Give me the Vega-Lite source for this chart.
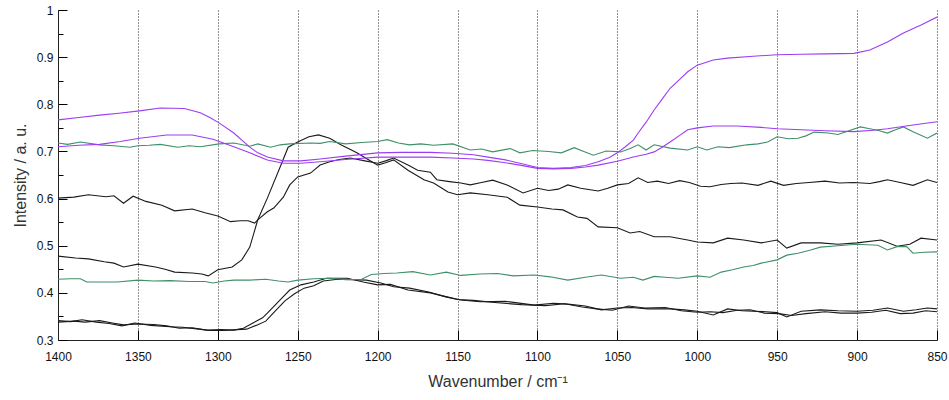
{
  "$schema": "https://vega.github.io/schema/vega-lite/v6.json",
  "width": 879,
  "height": 330,
  "autosize": "none",
  "padding": {"left": 58, "top": 10, "right": 12, "bottom": 60},
  "background": "white",
  "config": {"view": {"stroke": null}},
  "data": {"values": [
    {"s":"K1","w":1400,"v":0.601},{"s":"K1","w":1390,"v":0.603},{"s":"K1","w":1381,"v":0.608},{"s":"K1","w":1370,"v":0.604},{"s":"K1","w":1365,"v":0.606},{"s":"K1","w":1359,"v":0.590},{"s":"K1","w":1353,"v":0.605},{"s":"K1","w":1345,"v":0.594},{"s":"K1","w":1335,"v":0.586},{"s":"K1","w":1327,"v":0.574},{"s":"K1","w":1316,"v":0.578},{"s":"K1","w":1308,"v":0.570},{"s":"K1","w":1300,"v":0.563},{"s":"K1","w":1292,"v":0.551},{"s":"K1","w":1286,"v":0.553},{"s":"K1","w":1281,"v":0.553},{"s":"K1","w":1277,"v":0.548},{"s":"K1","w":1275,"v":0.555},{"s":"K1","w":1269,"v":0.572},{"s":"K1","w":1265,"v":0.580},{"s":"K1","w":1259,"v":0.603},{"s":"K1","w":1255,"v":0.629},{"s":"K1","w":1250,"v":0.646},{"s":"K1","w":1242,"v":0.654},{"s":"K1","w":1236,"v":0.671},{"s":"K1","w":1230,"v":0.678},{"s":"K1","w":1224,"v":0.683},{"s":"K1","w":1217,"v":0.686},{"s":"K1","w":1208,"v":0.680},{"s":"K1","w":1200,"v":0.675},{"s":"K1","w":1195,"v":0.680},{"s":"K1","w":1190,"v":0.686},{"s":"K1","w":1181,"v":0.671},{"s":"K1","w":1175,"v":0.660},{"s":"K1","w":1167,"v":0.656},{"s":"K1","w":1163,"v":0.640},{"s":"K1","w":1155,"v":0.636},{"s":"K1","w":1148,"v":0.633},{"s":"K1","w":1142,"v":0.629},{"s":"K1","w":1135,"v":0.634},{"s":"K1","w":1128,"v":0.639},{"s":"K1","w":1119,"v":0.629},{"s":"K1","w":1109,"v":0.612},{"s":"K1","w":1100,"v":0.622},{"s":"K1","w":1093,"v":0.617},{"s":"K1","w":1087,"v":0.620},{"s":"K1","w":1081,"v":0.629},{"s":"K1","w":1073,"v":0.622},{"s":"K1","w":1062,"v":0.616},{"s":"K1","w":1056,"v":0.622},{"s":"K1","w":1050,"v":0.629},{"s":"K1","w":1043,"v":0.632},{"s":"K1","w":1037,"v":0.644},{"s":"K1","w":1031,"v":0.634},{"s":"K1","w":1025,"v":0.637},{"s":"K1","w":1018,"v":0.632},{"s":"K1","w":1011,"v":0.638},{"s":"K1","w":1005,"v":0.634},{"s":"K1","w":998,"v":0.626},{"s":"K1","w":992,"v":0.625},{"s":"K1","w":985,"v":0.630},{"s":"K1","w":979,"v":0.632},{"s":"K1","w":972,"v":0.633},{"s":"K1","w":962,"v":0.628},{"s":"K1","w":954,"v":0.637},{"s":"K1","w":946,"v":0.628},{"s":"K1","w":938,"v":0.632},{"s":"K1","w":930,"v":0.634},{"s":"K1","w":920,"v":0.637},{"s":"K1","w":911,"v":0.633},{"s":"K1","w":902,"v":0.634},{"s":"K1","w":892,"v":0.632},{"s":"K1","w":886,"v":0.636},{"s":"K1","w":881,"v":0.640},{"s":"K1","w":873,"v":0.634},{"s":"K1","w":865,"v":0.628},{"s":"K1","w":856,"v":0.640},{"s":"K1","w":850,"v":0.634},
    {"s":"K2","w":1400,"v":0.478},{"s":"K2","w":1389,"v":0.474},{"s":"K2","w":1381,"v":0.472},{"s":"K2","w":1371,"v":0.466},{"s":"K2","w":1365,"v":0.463},{"s":"K2","w":1359,"v":0.455},{"s":"K2","w":1350,"v":0.461},{"s":"K2","w":1339,"v":0.455},{"s":"K2","w":1333,"v":0.450},{"s":"K2","w":1327,"v":0.444},{"s":"K2","w":1316,"v":0.442},{"s":"K2","w":1310,"v":0.440},{"s":"K2","w":1306,"v":0.436},{"s":"K2","w":1300,"v":0.449},{"s":"K2","w":1291,"v":0.455},{"s":"K2","w":1285,"v":0.470},{"s":"K2","w":1280,"v":0.497},{"s":"K2","w":1275,"v":0.555},{"s":"K2","w":1269,"v":0.601},{"s":"K2","w":1261,"v":0.667},{"s":"K2","w":1256,"v":0.709},{"s":"K2","w":1250,"v":0.720},{"s":"K2","w":1243,"v":0.731},{"s":"K2","w":1237,"v":0.735},{"s":"K2","w":1230,"v":0.728},{"s":"K2","w":1223,"v":0.714},{"s":"K2","w":1213,"v":0.697},{"s":"K2","w":1206,"v":0.683},{"s":"K2","w":1200,"v":0.671},{"s":"K2","w":1195,"v":0.676},{"s":"K2","w":1190,"v":0.682},{"s":"K2","w":1181,"v":0.660},{"s":"K2","w":1171,"v":0.640},{"s":"K2","w":1165,"v":0.633},{"s":"K2","w":1156,"v":0.614},{"s":"K2","w":1150,"v":0.608},{"s":"K2","w":1142,"v":0.612},{"s":"K2","w":1131,"v":0.608},{"s":"K2","w":1119,"v":0.603},{"s":"K2","w":1111,"v":0.586},{"s":"K2","w":1100,"v":0.582},{"s":"K2","w":1091,"v":0.578},{"s":"K2","w":1084,"v":0.576},{"s":"K2","w":1075,"v":0.561},{"s":"K2","w":1069,"v":0.558},{"s":"K2","w":1062,"v":0.540},{"s":"K2","w":1050,"v":0.538},{"s":"K2","w":1042,"v":0.527},{"s":"K2","w":1036,"v":0.530},{"s":"K2","w":1027,"v":0.519},{"s":"K2","w":1017,"v":0.519},{"s":"K2","w":1006,"v":0.512},{"s":"K2","w":1000,"v":0.508},{"s":"K2","w":990,"v":0.506},{"s":"K2","w":981,"v":0.516},{"s":"K2","w":971,"v":0.512},{"s":"K2","w":960,"v":0.506},{"s":"K2","w":950,"v":0.512},{"s":"K2","w":944,"v":0.495},{"s":"K2","w":935,"v":0.506},{"s":"K2","w":923,"v":0.506},{"s":"K2","w":912,"v":0.503},{"s":"K2","w":900,"v":0.506},{"s":"K2","w":885,"v":0.512},{"s":"K2","w":875,"v":0.499},{"s":"K2","w":867,"v":0.503},{"s":"K2","w":860,"v":0.516},{"s":"K2","w":850,"v":0.512},
    {"s":"K3","w":1400,"v":0.338},{"s":"K3","w":1390,"v":0.340},{"s":"K3","w":1383,"v":0.338},{"s":"K3","w":1374,"v":0.341},{"s":"K3","w":1366,"v":0.336},{"s":"K3","w":1359,"v":0.332},{"s":"K3","w":1350,"v":0.334},{"s":"K3","w":1340,"v":0.333},{"s":"K3","w":1332,"v":0.330},{"s":"K3","w":1324,"v":0.325},{"s":"K3","w":1316,"v":0.326},{"s":"K3","w":1307,"v":0.321},{"s":"K3","w":1298,"v":0.322},{"s":"K3","w":1290,"v":0.321},{"s":"K3","w":1284,"v":0.325},{"s":"K3","w":1278,"v":0.336},{"s":"K3","w":1272,"v":0.347},{"s":"K3","w":1269,"v":0.357},{"s":"K3","w":1261,"v":0.385},{"s":"K3","w":1255,"v":0.406},{"s":"K3","w":1248,"v":0.417},{"s":"K3","w":1240,"v":0.423},{"s":"K3","w":1232,"v":0.431},{"s":"K3","w":1219,"v":0.431},{"s":"K3","w":1209,"v":0.423},{"s":"K3","w":1200,"v":0.417},{"s":"K3","w":1192,"v":0.418},{"s":"K3","w":1181,"v":0.406},{"s":"K3","w":1167,"v":0.400},{"s":"K3","w":1156,"v":0.391},{"s":"K3","w":1148,"v":0.385},{"s":"K3","w":1136,"v":0.381},{"s":"K3","w":1120,"v":0.382},{"s":"K3","w":1102,"v":0.374},{"s":"K3","w":1090,"v":0.378},{"s":"K3","w":1081,"v":0.376},{"s":"K3","w":1070,"v":0.372},{"s":"K3","w":1060,"v":0.364},{"s":"K3","w":1050,"v":0.368},{"s":"K3","w":1041,"v":0.369},{"s":"K3","w":1031,"v":0.366},{"s":"K3","w":1017,"v":0.366},{"s":"K3","w":1008,"v":0.364},{"s":"K3","w":1000,"v":0.361},{"s":"K3","w":990,"v":0.353},{"s":"K3","w":981,"v":0.366},{"s":"K3","w":972,"v":0.362},{"s":"K3","w":965,"v":0.361},{"s":"K3","w":957,"v":0.360},{"s":"K3","w":950,"v":0.358},{"s":"K3","w":944,"v":0.349},{"s":"K3","w":935,"v":0.361},{"s":"K3","w":923,"v":0.364},{"s":"K3","w":912,"v":0.362},{"s":"K3","w":900,"v":0.361},{"s":"K3","w":890,"v":0.363},{"s":"K3","w":881,"v":0.368},{"s":"K3","w":871,"v":0.361},{"s":"K3","w":863,"v":0.364},{"s":"K3","w":856,"v":0.368},{"s":"K3","w":850,"v":0.366},
    {"s":"K4","w":1400,"v":0.341},{"s":"K4","w":1392,"v":0.339},{"s":"K4","w":1385,"v":0.343},{"s":"K4","w":1376,"v":0.338},{"s":"K4","w":1368,"v":0.335},{"s":"K4","w":1360,"v":0.330},{"s":"K4","w":1352,"v":0.336},{"s":"K4","w":1342,"v":0.331},{"s":"K4","w":1330,"v":0.328},{"s":"K4","w":1322,"v":0.327},{"s":"K4","w":1312,"v":0.323},{"s":"K4","w":1305,"v":0.320},{"s":"K4","w":1296,"v":0.320},{"s":"K4","w":1288,"v":0.322},{"s":"K4","w":1282,"v":0.323},{"s":"K4","w":1276,"v":0.331},{"s":"K4","w":1270,"v":0.340},{"s":"K4","w":1264,"v":0.362},{"s":"K4","w":1258,"v":0.383},{"s":"K4","w":1252,"v":0.398},{"s":"K4","w":1246,"v":0.410},{"s":"K4","w":1240,"v":0.415},{"s":"K4","w":1234,"v":0.425},{"s":"K4","w":1225,"v":0.429},{"s":"K4","w":1216,"v":0.428},{"s":"K4","w":1207,"v":0.427},{"s":"K4","w":1198,"v":0.421},{"s":"K4","w":1190,"v":0.413},{"s":"K4","w":1180,"v":0.410},{"s":"K4","w":1168,"v":0.402},{"s":"K4","w":1158,"v":0.392},{"s":"K4","w":1150,"v":0.386},{"s":"K4","w":1140,"v":0.384},{"s":"K4","w":1125,"v":0.379},{"s":"K4","w":1110,"v":0.375},{"s":"K4","w":1095,"v":0.373},{"s":"K4","w":1083,"v":0.377},{"s":"K4","w":1072,"v":0.370},{"s":"K4","w":1063,"v":0.366},{"s":"K4","w":1053,"v":0.363},{"s":"K4","w":1043,"v":0.372},{"s":"K4","w":1033,"v":0.368},{"s":"K4","w":1020,"v":0.369},{"s":"K4","w":1010,"v":0.362},{"s":"K4","w":1000,"v":0.359},{"s":"K4","w":992,"v":0.360},{"s":"K4","w":984,"v":0.358},{"s":"K4","w":975,"v":0.363},{"s":"K4","w":967,"v":0.364},{"s":"K4","w":958,"v":0.357},{"s":"K4","w":949,"v":0.356},{"s":"K4","w":941,"v":0.352},{"s":"K4","w":932,"v":0.356},{"s":"K4","w":920,"v":0.360},{"s":"K4","w":910,"v":0.357},{"s":"K4","w":900,"v":0.357},{"s":"K4","w":891,"v":0.359},{"s":"K4","w":882,"v":0.363},{"s":"K4","w":873,"v":0.356},{"s":"K4","w":865,"v":0.357},{"s":"K4","w":857,"v":0.362},{"s":"K4","w":850,"v":0.360},
    {"s":"G1","w":1400,"v":0.718},{"s":"G1","w":1394,"v":0.715},{"s":"G1","w":1386,"v":0.720},{"s":"G1","w":1374,"v":0.714},{"s":"G1","w":1365,"v":0.712},{"s":"G1","w":1355,"v":0.709},{"s":"G1","w":1350,"v":0.712},{"s":"G1","w":1343,"v":0.713},{"s":"G1","w":1336,"v":0.715},{"s":"G1","w":1325,"v":0.709},{"s":"G1","w":1318,"v":0.712},{"s":"G1","w":1311,"v":0.710},{"s":"G1","w":1299,"v":0.716},{"s":"G1","w":1290,"v":0.718},{"s":"G1","w":1280,"v":0.711},{"s":"G1","w":1275,"v":0.716},{"s":"G1","w":1267,"v":0.709},{"s":"G1","w":1261,"v":0.714},{"s":"G1","w":1255,"v":0.716},{"s":"G1","w":1242,"v":0.718},{"s":"G1","w":1236,"v":0.717},{"s":"G1","w":1230,"v":0.721},{"s":"G1","w":1220,"v":0.716},{"s":"G1","w":1210,"v":0.719},{"s":"G1","w":1200,"v":0.721},{"s":"G1","w":1194,"v":0.725},{"s":"G1","w":1187,"v":0.718},{"s":"G1","w":1180,"v":0.714},{"s":"G1","w":1173,"v":0.716},{"s":"G1","w":1165,"v":0.713},{"s":"G1","w":1153,"v":0.716},{"s":"G1","w":1142,"v":0.703},{"s":"G1","w":1135,"v":0.705},{"s":"G1","w":1128,"v":0.699},{"s":"G1","w":1117,"v":0.706},{"s":"G1","w":1111,"v":0.697},{"s":"G1","w":1103,"v":0.702},{"s":"G1","w":1093,"v":0.700},{"s":"G1","w":1085,"v":0.697},{"s":"G1","w":1077,"v":0.708},{"s":"G1","w":1071,"v":0.700},{"s":"G1","w":1065,"v":0.692},{"s":"G1","w":1057,"v":0.701},{"s":"G1","w":1048,"v":0.699},{"s":"G1","w":1042,"v":0.706},{"s":"G1","w":1037,"v":0.714},{"s":"G1","w":1032,"v":0.703},{"s":"G1","w":1027,"v":0.714},{"s":"G1","w":1017,"v":0.707},{"s":"G1","w":1006,"v":0.703},{"s":"G1","w":1000,"v":0.710},{"s":"G1","w":994,"v":0.703},{"s":"G1","w":987,"v":0.710},{"s":"G1","w":980,"v":0.708},{"s":"G1","w":969,"v":0.714},{"s":"G1","w":962,"v":0.716},{"s":"G1","w":956,"v":0.720},{"s":"G1","w":950,"v":0.731},{"s":"G1","w":943,"v":0.727},{"s":"G1","w":937,"v":0.728},{"s":"G1","w":932,"v":0.733},{"s":"G1","w":927,"v":0.741},{"s":"G1","w":918,"v":0.739},{"s":"G1","w":912,"v":0.736},{"s":"G1","w":906,"v":0.743},{"s":"G1","w":898,"v":0.752},{"s":"G1","w":892,"v":0.748},{"s":"G1","w":886,"v":0.744},{"s":"G1","w":881,"v":0.739},{"s":"G1","w":876,"v":0.746},{"s":"G1","w":871,"v":0.752},{"s":"G1","w":865,"v":0.742},{"s":"G1","w":856,"v":0.728},{"s":"G1","w":850,"v":0.739},
    {"s":"G2","w":1400,"v":0.429},{"s":"G2","w":1392,"v":0.430},{"s":"G2","w":1386,"v":0.430},{"s":"G2","w":1382,"v":0.423},{"s":"G2","w":1372,"v":0.423},{"s":"G2","w":1363,"v":0.423},{"s":"G2","w":1350,"v":0.427},{"s":"G2","w":1340,"v":0.425},{"s":"G2","w":1330,"v":0.426},{"s":"G2","w":1318,"v":0.424},{"s":"G2","w":1308,"v":0.424},{"s":"G2","w":1303,"v":0.421},{"s":"G2","w":1296,"v":0.425},{"s":"G2","w":1290,"v":0.427},{"s":"G2","w":1280,"v":0.427},{"s":"G2","w":1270,"v":0.429},{"s":"G2","w":1262,"v":0.425},{"s":"G2","w":1256,"v":0.423},{"s":"G2","w":1250,"v":0.427},{"s":"G2","w":1240,"v":0.430},{"s":"G2","w":1230,"v":0.431},{"s":"G2","w":1220,"v":0.428},{"s":"G2","w":1210,"v":0.429},{"s":"G2","w":1204,"v":0.439},{"s":"G2","w":1196,"v":0.441},{"s":"G2","w":1188,"v":0.442},{"s":"G2","w":1178,"v":0.445},{"s":"G2","w":1167,"v":0.438},{"s":"G2","w":1157,"v":0.444},{"s":"G2","w":1148,"v":0.437},{"s":"G2","w":1136,"v":0.440},{"s":"G2","w":1125,"v":0.441},{"s":"G2","w":1115,"v":0.436},{"s":"G2","w":1102,"v":0.438},{"s":"G2","w":1092,"v":0.434},{"s":"G2","w":1081,"v":0.427},{"s":"G2","w":1070,"v":0.433},{"s":"G2","w":1060,"v":0.438},{"s":"G2","w":1048,"v":0.431},{"s":"G2","w":1040,"v":0.433},{"s":"G2","w":1034,"v":0.427},{"s":"G2","w":1027,"v":0.435},{"s":"G2","w":1020,"v":0.433},{"s":"G2","w":1012,"v":0.431},{"s":"G2","w":1000,"v":0.436},{"s":"G2","w":992,"v":0.433},{"s":"G2","w":985,"v":0.444},{"s":"G2","w":978,"v":0.449},{"s":"G2","w":971,"v":0.455},{"s":"G2","w":965,"v":0.458},{"s":"G2","w":960,"v":0.463},{"s":"G2","w":950,"v":0.470},{"s":"G2","w":944,"v":0.480},{"s":"G2","w":937,"v":0.484},{"s":"G2","w":929,"v":0.491},{"s":"G2","w":923,"v":0.497},{"s":"G2","w":912,"v":0.500},{"s":"G2","w":900,"v":0.503},{"s":"G2","w":887,"v":0.501},{"s":"G2","w":881,"v":0.491},{"s":"G2","w":875,"v":0.498},{"s":"G2","w":869,"v":0.498},{"s":"G2","w":865,"v":0.484},{"s":"G2","w":858,"v":0.486},{"s":"G2","w":850,"v":0.487},
    {"s":"P1","w":1400,"v":0.767},{"s":"P1","w":1387,"v":0.772},{"s":"P1","w":1374,"v":0.777},{"s":"P1","w":1362,"v":0.781},{"s":"P1","w":1349,"v":0.786},{"s":"P1","w":1336,"v":0.792},{"s":"P1","w":1321,"v":0.791},{"s":"P1","w":1311,"v":0.782},{"s":"P1","w":1305,"v":0.772},{"s":"P1","w":1299,"v":0.760},{"s":"P1","w":1290,"v":0.739},{"s":"P1","w":1280,"v":0.709},{"s":"P1","w":1275,"v":0.697},{"s":"P1","w":1269,"v":0.688},{"s":"P1","w":1259,"v":0.680},{"s":"P1","w":1248,"v":0.680},{"s":"P1","w":1236,"v":0.684},{"s":"P1","w":1220,"v":0.690},{"s":"P1","w":1200,"v":0.697},{"s":"P1","w":1185,"v":0.698},{"s":"P1","w":1167,"v":0.698},{"s":"P1","w":1153,"v":0.696},{"s":"P1","w":1140,"v":0.693},{"s":"P1","w":1131,"v":0.688},{"s":"P1","w":1120,"v":0.682},{"s":"P1","w":1111,"v":0.675},{"s":"P1","w":1100,"v":0.666},{"s":"P1","w":1090,"v":0.664},{"s":"P1","w":1079,"v":0.666},{"s":"P1","w":1070,"v":0.670},{"s":"P1","w":1062,"v":0.678},{"s":"P1","w":1055,"v":0.687},{"s":"P1","w":1050,"v":0.697},{"s":"P1","w":1045,"v":0.710},{"s":"P1","w":1040,"v":0.724},{"s":"P1","w":1037,"v":0.739},{"s":"P1","w":1032,"v":0.762},{"s":"P1","w":1027,"v":0.788},{"s":"P1","w":1022,"v":0.811},{"s":"P1","w":1017,"v":0.834},{"s":"P1","w":1011,"v":0.853},{"s":"P1","w":1006,"v":0.869},{"s":"P1","w":1000,"v":0.883},{"s":"P1","w":990,"v":0.894},{"s":"P1","w":981,"v":0.898},{"s":"P1","w":965,"v":0.902},{"s":"P1","w":950,"v":0.905},{"s":"P1","w":935,"v":0.906},{"s":"P1","w":920,"v":0.907},{"s":"P1","w":902,"v":0.908},{"s":"P1","w":892,"v":0.915},{"s":"P1","w":881,"v":0.932},{"s":"P1","w":871,"v":0.951},{"s":"P1","w":860,"v":0.968},{"s":"P1","w":850,"v":0.985},
    {"s":"P2","w":1400,"v":0.710},{"s":"P2","w":1387,"v":0.713},{"s":"P2","w":1374,"v":0.715},{"s":"P2","w":1361,"v":0.721},{"s":"P2","w":1349,"v":0.728},{"s":"P2","w":1332,"v":0.735},{"s":"P2","w":1316,"v":0.735},{"s":"P2","w":1303,"v":0.726},{"s":"P2","w":1290,"v":0.710},{"s":"P2","w":1280,"v":0.697},{"s":"P2","w":1269,"v":0.682},{"s":"P2","w":1259,"v":0.675},{"s":"P2","w":1248,"v":0.675},{"s":"P2","w":1236,"v":0.678},{"s":"P2","w":1220,"v":0.683},{"s":"P2","w":1200,"v":0.688},{"s":"P2","w":1185,"v":0.688},{"s":"P2","w":1167,"v":0.688},{"s":"P2","w":1153,"v":0.686},{"s":"P2","w":1140,"v":0.684},{"s":"P2","w":1131,"v":0.681},{"s":"P2","w":1120,"v":0.676},{"s":"P2","w":1111,"v":0.671},{"s":"P2","w":1100,"v":0.664},{"s":"P2","w":1090,"v":0.663},{"s":"P2","w":1079,"v":0.664},{"s":"P2","w":1070,"v":0.667},{"s":"P2","w":1062,"v":0.671},{"s":"P2","w":1050,"v":0.679},{"s":"P2","w":1040,"v":0.688},{"s":"P2","w":1032,"v":0.694},{"s":"P2","w":1027,"v":0.699},{"s":"P2","w":1022,"v":0.709},{"s":"P2","w":1017,"v":0.720},{"s":"P2","w":1011,"v":0.734},{"s":"P2","w":1006,"v":0.746},{"s":"P2","w":1000,"v":0.750},{"s":"P2","w":990,"v":0.754},{"s":"P2","w":975,"v":0.754},{"s":"P2","w":960,"v":0.751},{"s":"P2","w":950,"v":0.748},{"s":"P2","w":935,"v":0.746},{"s":"P2","w":920,"v":0.744},{"s":"P2","w":902,"v":0.742},{"s":"P2","w":890,"v":0.745},{"s":"P2","w":881,"v":0.748},{"s":"P2","w":865,"v":0.756},{"s":"P2","w":850,"v":0.763}
  ]},
  "mark": {"type": "line", "strokeWidth": 1.1, "clip": true},
  "encoding": {
    "x": {
      "field": "w", "type": "quantitative",
      "scale": {"domain": [850, 1400], "reverse": true, "nice": false, "zero": false},
      "axis": {
        "title": "Wavenumber / cm⁻¹",
        "values": [1400, 1350, 1300, 1250, 1200, 1150, 1100, 1050, 1000, 950, 900, 850],
        "format": "d",
        "grid": true, "gridDash": [1, 2], "gridColor": "#222", "gridWidth": 1,
        "tickSize": -10, "tickColor": "#000", "domainColor": "#222",
        "labelPadding": 21, "labelFont": "Liberation Sans", "labelFontSize": 12, "labelColor": "#111",
        "labelFlush": false, "labelOverlap": false,
        "titleFont": "Liberation Sans", "titleFontSize": 16, "titleFontWeight": "normal", "titleColor": "#333", "titlePadding": 11
      }
    },
    "y": {
      "field": "v", "type": "quantitative",
      "scale": {"domain": [0.3, 1.0], "nice": false, "zero": false},
      "axis": {
        "title": "Intensity / a. u.",
        "values": [0.3, 0.35, 0.4, 0.45, 0.5, 0.55, 0.6, 0.65, 0.7, 0.75, 0.8, 0.85, 0.9, 0.95, 1.0],
        "labelExpr": "abs(datum.value*10-round(datum.value*10))<0.001 ? format(datum.value, '~g') : ''",
        "grid": false,
        "tickSize": {"condition": {"test": "abs(datum.value*10-round(datum.value*10))<0.001", "value": -9}, "value": -5},
        "tickColor": "#000", "domainColor": "#222",
        "labelPadding": 14, "labelFont": "Liberation Sans", "labelFontSize": 12, "labelColor": "#111",
        "labelFlush": false, "labelOverlap": false,
        "titleFont": "Liberation Sans", "titleFontSize": 16, "titleFontWeight": "normal", "titleColor": "#333", "titlePadding": 8
      }
    },
    "color": {
      "field": "s", "type": "nominal", "legend": null,
      "scale": {"domain": ["K1", "K2", "K3", "K4", "G1", "G2", "P1", "P2"],
                "range": ["#1a1a1a", "#1a1a1a", "#1a1a1a", "#1a1a1a", "#3f8f68", "#3f8f68", "#9b3df2", "#9b3df2"]}
    }
  }
}
